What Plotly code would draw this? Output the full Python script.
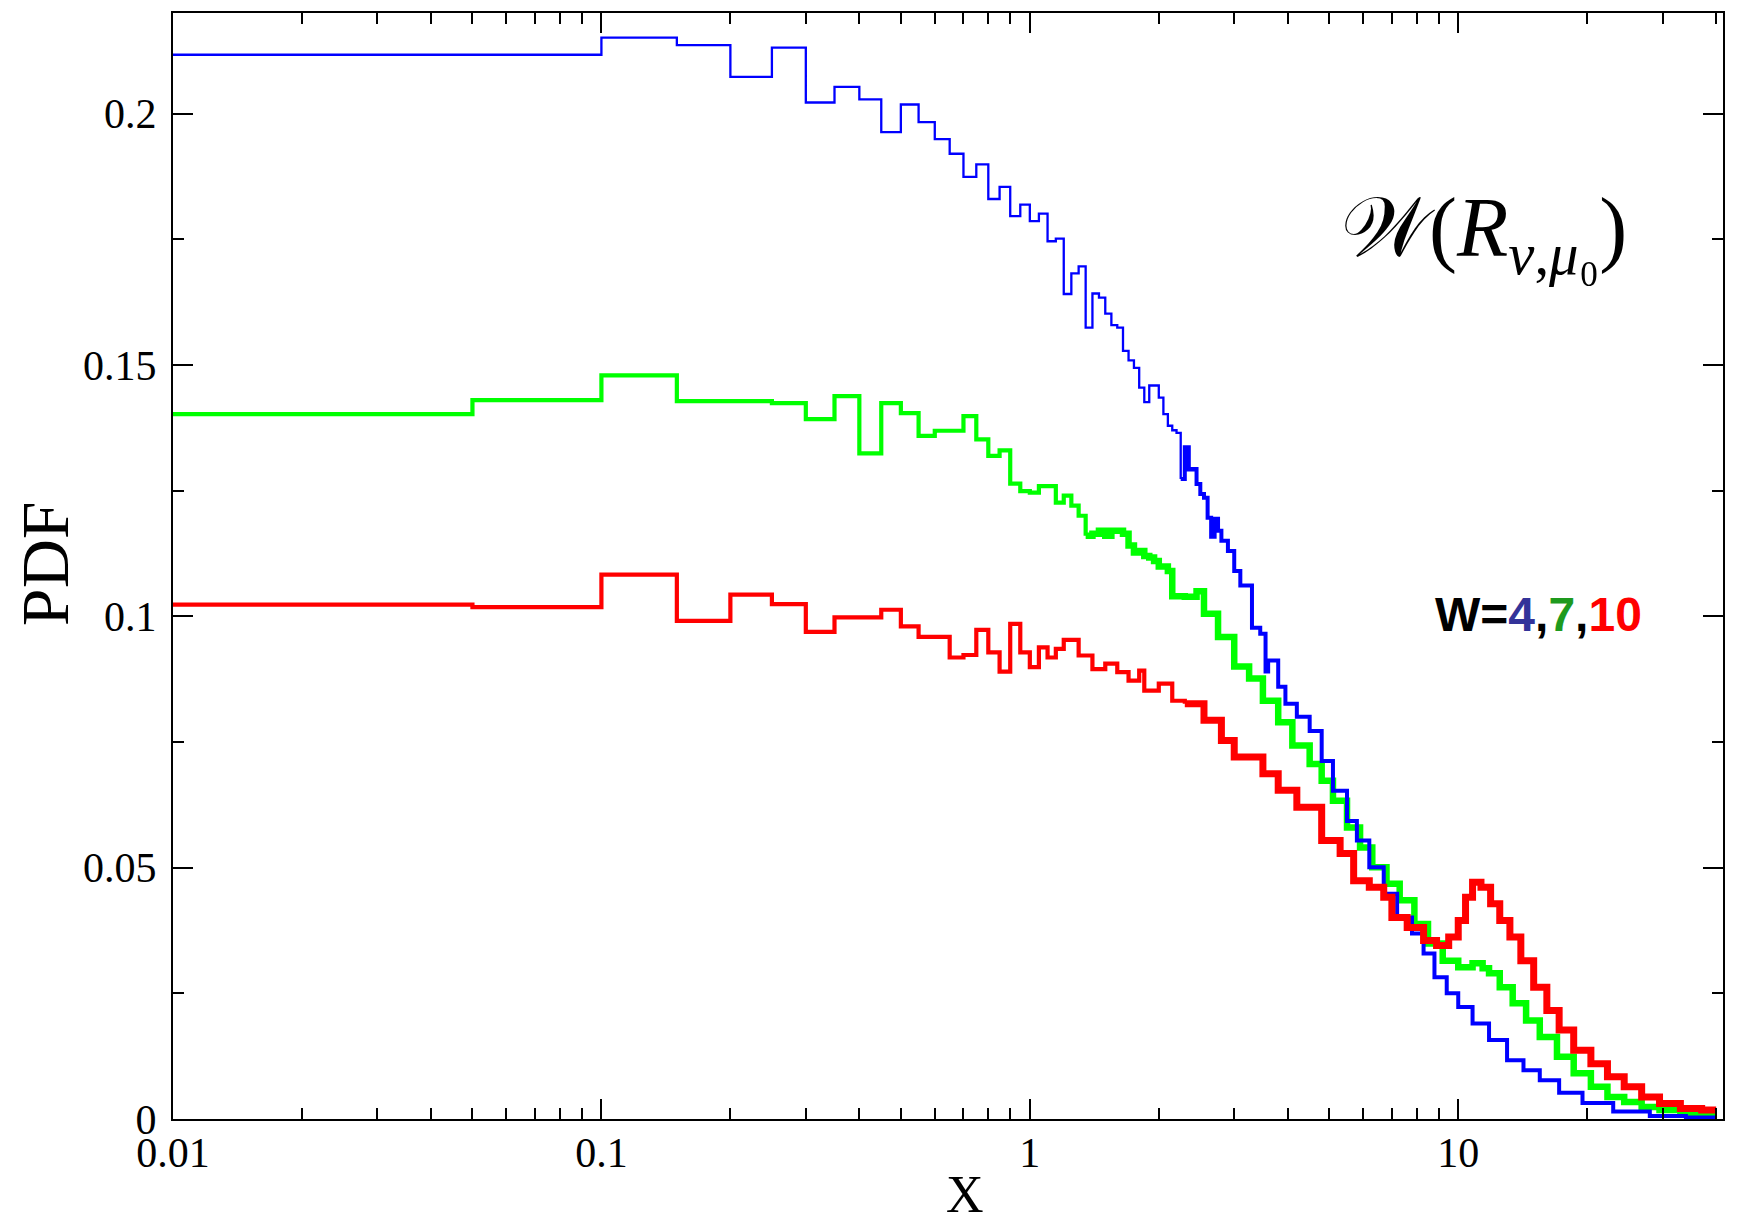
import plotly.graph_objects as go

# left bin edges and PDF value of each bin
x_w4 = [0.01, 0.10, 0.15, 0.20, 0.25, 0.30, 0.35, 0.40, 0.45, 0.50, 0.55, 0.60, 0.65, 0.70,
        0.75, 0.80, 0.85, 0.90, 0.95, 1.00, 1.05, 1.10, 1.15, 1.20, 1.25, 1.30, 1.35, 1.40,
        1.45, 1.50, 1.55, 1.60, 1.65, 1.70, 1.75, 1.80, 1.85, 1.90, 1.95, 2.00, 2.05, 2.10,
        2.15, 2.20, 2.25, 2.30, 2.35, 2.40, 2.45, 2.50, 2.55, 2.60, 2.65, 2.70, 2.75, 2.80,
        2.90, 3.00, 3.10, 3.30, 3.45, 3.55, 3.60, 3.80, 3.95, 4.20, 4.50, 4.80, 5.10, 5.50,
        5.80, 6.20, 6.70, 7.20, 7.80, 8.30, 8.80, 9.40, 10.0, 10.8, 11.8, 13.0, 14.2, 15.5,
        17.2, 19.5, 23.0, 28.0, 34.0]
pdf_w4 = [0.2117, 0.2151, 0.2136, 0.2073, 0.2131, 0.2022, 0.2053, 0.2028, 0.1963, 0.2018,
          0.1983, 0.1949, 0.1920, 0.1874, 0.1899, 0.1830, 0.1854, 0.1796, 0.1819, 0.1786,
          0.1801, 0.1746, 0.1751, 0.1641, 0.1682, 0.1696, 0.1574, 0.1642, 0.1634, 0.1602,
          0.1579, 0.1574, 0.1528, 0.1509, 0.1494, 0.1455, 0.1426, 0.1459, 0.1459, 0.1435,
          0.1402, 0.1379, 0.1370, 0.1365, 0.1273, 0.1336, 0.1292, 0.1293, 0.1263, 0.1243,
          0.1236, 0.1196, 0.1158, 0.1194, 0.1170, 0.1150, 0.1130, 0.1090, 0.1061, 0.0977,
          0.0965, 0.0890, 0.0912, 0.0860, 0.0826, 0.0800, 0.0772, 0.0712, 0.0653, 0.0593,
          0.0554, 0.0501, 0.0448, 0.0401, 0.0369, 0.0329, 0.0282, 0.0250, 0.0223, 0.0190,
          0.0157, 0.0117, 0.0097, 0.0077, 0.0052, 0.0032, 0.0015, 0.0006, 0.0003]

x_w7 = [0.01, 0.05, 0.10, 0.15, 0.20, 0.25, 0.30, 0.35, 0.40, 0.45, 0.50, 0.55, 0.60, 0.65,
        0.70, 0.75, 0.80, 0.85, 0.90, 0.95, 1.00, 1.05, 1.10, 1.15, 1.20, 1.25, 1.30, 1.35,
        1.40, 1.45, 1.50, 1.55, 1.60, 1.65, 1.70, 1.75, 1.80, 1.85, 1.90, 1.95, 2.00, 2.10,
        2.15, 2.30, 2.45, 2.55, 2.75, 3.00, 3.25, 3.50, 3.80, 4.10, 4.50, 4.80, 5.10, 5.50,
        5.90, 6.30, 6.80, 7.30, 7.90, 8.50, 9.20, 10.0, 10.8, 11.4, 11.8, 12.5, 13.4, 14.4,
        15.5, 17.0, 18.6, 20.4, 22.3, 24.4, 26.8, 29.5, 33.0, 37.0]
pdf_w7 = [0.1402, 0.1430, 0.1479, 0.1428, 0.1428, 0.1424, 0.1392, 0.1438, 0.1324, 0.1424,
          0.1404, 0.1359, 0.1369, 0.1369, 0.1398, 0.1352, 0.1319, 0.1330, 0.1264, 0.1249,
          0.1246, 0.1259, 0.1259, 0.1226, 0.1240, 0.1220, 0.1200, 0.1160, 0.1164, 0.1170,
          0.1160, 0.1170, 0.1170, 0.1164, 0.1141, 0.1127, 0.1130, 0.1120, 0.1117, 0.1110,
          0.1099, 0.1090, 0.1040, 0.1039, 0.1050, 0.1005, 0.0959, 0.0900, 0.0876, 0.0832,
          0.0789, 0.0743, 0.0706, 0.0673, 0.0633, 0.0580, 0.0540, 0.0501, 0.0468, 0.0435,
          0.0388, 0.0349, 0.0315, 0.0302, 0.0310, 0.0300, 0.0290, 0.0262, 0.0230, 0.0196,
          0.0163, 0.0124, 0.0091, 0.0064, 0.0044, 0.0034, 0.0024, 0.0018, 0.0012, 0.0008]

x_w10 = [0.01, 0.05, 0.10, 0.15, 0.20, 0.25, 0.30, 0.35, 0.40, 0.45, 0.50, 0.55, 0.60, 0.65,
         0.70, 0.75, 0.80, 0.85, 0.90, 0.95, 1.00, 1.05, 1.10, 1.15, 1.20, 1.25, 1.30, 1.35,
         1.40, 1.50, 1.60, 1.70, 1.80, 1.85, 2.00, 2.15, 2.30, 2.55, 2.80, 3.00, 3.50, 3.80,
         4.20, 4.80, 5.30, 5.70, 6.20, 6.70, 7.00, 7.60, 8.30, 8.90, 9.50, 10.0, 10.4, 10.8,
         11.3, 11.9, 12.5, 13.2, 14.0, 15.0, 16.1, 17.2, 18.6, 20.4, 22.3, 24.4, 26.8, 29.5,
         33.0, 37.0]
pdf_w10 = [0.1023, 0.1018, 0.1083, 0.0991, 0.1043, 0.1024, 0.0969, 0.0998, 0.0998, 0.1013,
           0.0980, 0.0959, 0.0959, 0.0918, 0.0923, 0.0973, 0.0928, 0.0890, 0.0985, 0.0928,
           0.0899, 0.0938, 0.0918, 0.0935, 0.0953, 0.0953, 0.0922, 0.0922, 0.0895, 0.0906,
           0.0889, 0.0872, 0.0892, 0.0852, 0.0866, 0.0832, 0.0826, 0.0793, 0.0753, 0.0720,
           0.0687, 0.0654, 0.0620, 0.0554, 0.0528, 0.0474, 0.0461, 0.0441, 0.0401, 0.0381,
           0.0355, 0.0345, 0.0362, 0.0395, 0.0441, 0.0471, 0.0461, 0.0428, 0.0395, 0.0362,
           0.0315, 0.0262, 0.0216, 0.0177, 0.0137, 0.0110, 0.0084, 0.0064, 0.0044, 0.0031,
           0.0021, 0.0018]
x_end = 40.0

x_ticks = [0.01, 0.1, 1, 10]
x_labels = ["0.01", "0.1", "1", "10"]
x_minor = [m * d for d in (0.01, 0.1, 1, 10) for m in range(2, 10) if m * d < 41]
y_ticks = [0, 0.05, 0.1, 0.15, 0.2]
y_labels = ["0", "0.05", "0.1", "0.15", "0.2"]
y_minor = [0.025, 0.075, 0.125, 0.175]

# (edges, values, colour, head width, tail width, x where the noisy tail starts)
SERIES = [
    (x_w7, pdf_w7, "#00ff00", 4.2, 6.5, 1.35),
    (x_w4, pdf_w4, "#0000ff", 2.3, 4.0, 2.25),
    (x_w10, pdf_w10, "#ff0000", 4.2, 7.0, 2.3),
]
SERIF = "Liberation Serif, Times New Roman, serif"

fig = go.Figure()
for edges, vals, col, w_head, w_tail, split in SERIES:
    xs = edges + [x_end]
    ys = vals + [vals[-1]]
    k = next(i for i, e in enumerate(xs) if e >= split)
    fig.add_scatter(x=xs[:k + 1], y=ys[:k + 1], mode="lines", line_shape="hv",
                    line=dict(color=col, width=w_head), showlegend=False)
    fig.add_scatter(x=xs[k:], y=ys[k:], mode="lines", line_shape="hv",
                    line=dict(color=col, width=w_tail), showlegend=False)

axis = dict(showline=True, linecolor="black", linewidth=2, mirror="allticks", ticks="inside",
            tickwidth=2, tickcolor="black", ticklen=20, showgrid=False, zeroline=False,
            tickfont=dict(family=SERIF, size=42, color="black"))
fig.update_xaxes(type="log", range=[-2, 1.618], tickmode="array", tickvals=x_ticks,
                 ticktext=x_labels, ticklabelstandoff=-4,
                 minor=dict(tickmode="array", tickvals=x_minor, ticks="inside", ticklen=11,
                            tickwidth=2, tickcolor="black", showgrid=False), **axis)
fig.update_yaxes(range=[0, 0.22], tickmode="array", tickvals=y_ticks, ticktext=y_labels,
                 ticklabelstandoff=6,
                 minor=dict(tickmode="array", tickvals=y_minor, ticks="inside", ticklen=11,
                            tickwidth=2, tickcolor="black", showgrid=False), **axis)

fig.add_annotation(text="PDF", textangle=-90, xref="paper", yref="paper", x=-0.083, y=0.502,
                   xanchor="center", yanchor="middle", showarrow=False,
                   font=dict(family=SERIF, size=68, color="black"))
fig.add_annotation(text="X", xref="paper", yref="paper", x=0.511, y=-0.068,
                   xanchor="center", yanchor="middle", showarrow=False,
                   font=dict(family=SERIF, size=52, color="black"))
fig.add_annotation(text="𝒲(<i>R</i><sub><i>ν</i>,<i>μ</i>₀</sub>)", xref="paper",
                   yref="paper", x=0.846, y=0.80, xanchor="center", yanchor="middle",
                   showarrow=False, font=dict(family=SERIF, size=84, color="black"))
fig.add_annotation(text="<b>W=<span style='color:#333399'>4</span>,"
                        "<span style='color:#1e9a1e'>7</span>,"
                        "<span style='color:#ff0000'>10</span></b>",
                   xref="paper", yref="paper", x=0.881, y=0.456, xanchor="center",
                   yanchor="middle", showarrow=False,
                   font=dict(family="Liberation Sans, Arial, sans-serif", size=48, color="black"))

fig.update_layout(width=1758, height=1222, template="plotly_white", plot_bgcolor="white",
                  paper_bgcolor="white", margin=dict(l=165, r=43, t=3, b=111))
fig.write_html("out.html")
